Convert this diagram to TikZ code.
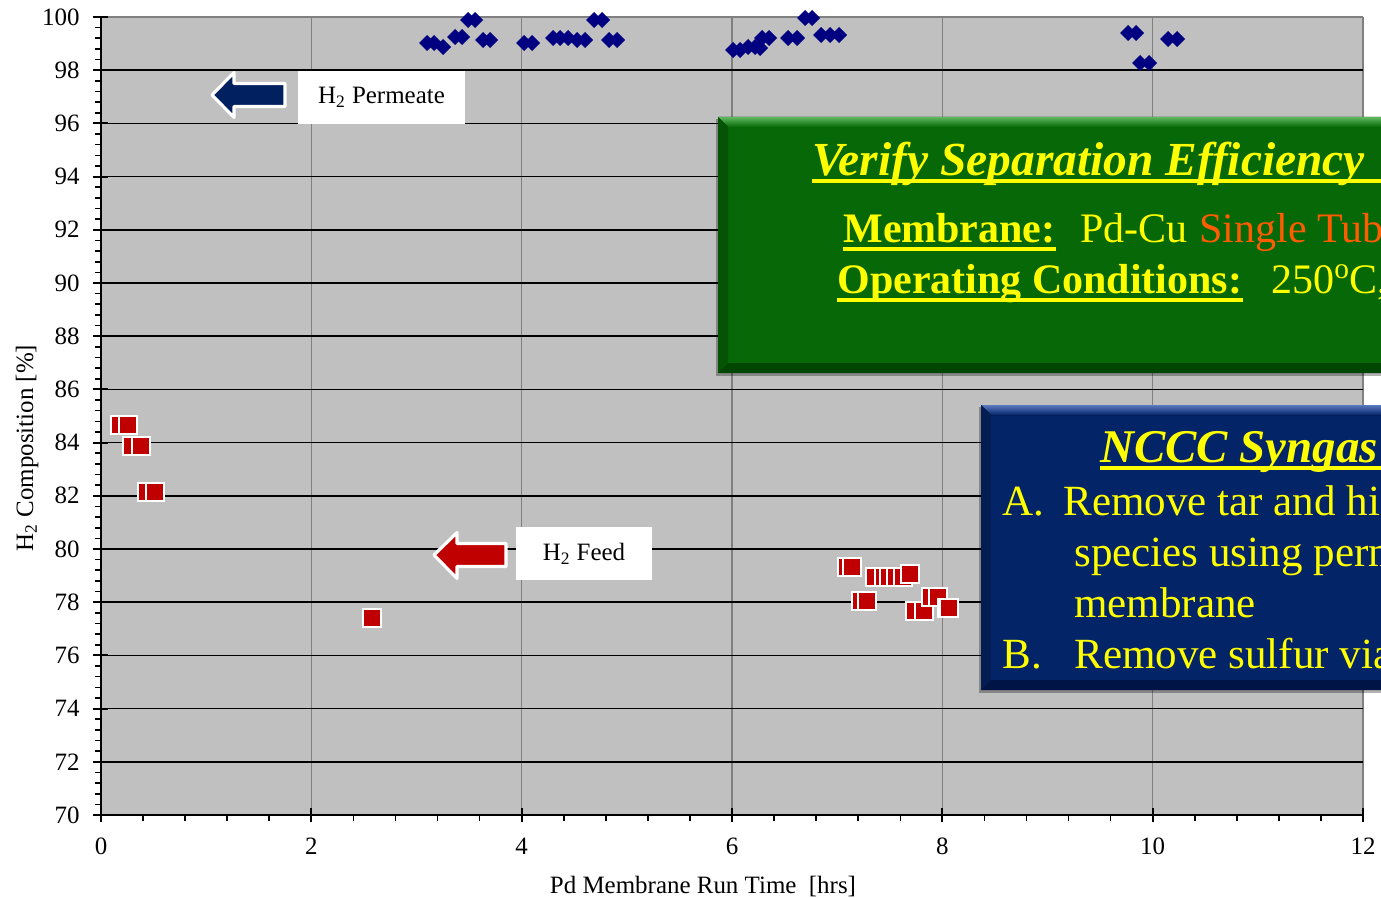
\documentclass[tikz,border=0pt]{standalone}
\usepackage{fontspec}
\setmainfont{Liberation Serif}
\usetikzlibrary{calc}

\definecolor{plotbg}{RGB}{192,192,192}
\definecolor{gridgray}{RGB}{128,128,128}
\definecolor{permmark}{RGB}{0,0,128}
\definecolor{feedmark}{RGB}{192,0,0}
\definecolor{permarrow}{RGB}{0,32,96}
\definecolor{feedarrow}{RGB}{192,0,0}
\definecolor{gpanel}{RGB}{6,104,6}
\definecolor{gpanellight}{RGB}{95,185,95}
\definecolor{gpaneldark}{RGB}{0,70,0}
\definecolor{bpanel}{RGB}{4,36,104}
\definecolor{bpanellight}{RGB}{90,120,190}
\definecolor{bpaneldark}{RGB}{0,20,70}
\definecolor{txtyellow}{RGB}{255,255,0}
\definecolor{tuborange}{RGB}{255,92,0}

\tikzset{
  hgrid/.style={draw=black, line width=0.85pt},
  vgrid/.style={draw=gridgray, line width=0.85pt},
  axisline/.style={draw=black, line width=1.2pt},
  minortick/.style={draw=black, line width=0.9pt},
  ticklab/.style={font=\fontsize{14.2}{16}\selectfont, inner sep=0pt},
  axtitle/.style={font=\fontsize{14.2}{16}\selectfont, inner sep=0pt},
  labelbox/.style={fill=white, inner sep=0pt, minimum height=1.06cm,
                   font=\fontsize{14.2}{16}\selectfont},
  blockarrow/.style={draw=white, line width=1.8pt, line join=round},
  gtitle/.style={anchor=base west, inner sep=0pt, text=txtyellow,
                 font=\fontsize{27}{30}\selectfont\bfseries\itshape},
  gbold/.style={anchor=base west, inner sep=0pt, text=txtyellow,
                font=\fontsize{23.9}{27}\selectfont\bfseries},
  gbody/.style={anchor=base west, inner sep=0pt, text=txtyellow,
                font=\fontsize{23.9}{27}\selectfont},
  btitle/.style={anchor=base west, inner sep=0pt, text=txtyellow,
                 font=\fontsize{26.7}{30}\selectfont\bfseries\itshape},
  bbody/.style={anchor=base west, inner sep=0pt, text=txtyellow,
                font=\fontsize{24.5}{28}\selectfont},
  yline/.style={draw=txtyellow, line width=2.2pt},
}

\begin{document}
\begin{tikzpicture}[x=0.02cm, y=-0.02cm]
\useasboundingbox (0,0) rectangle (1381,898);
\clip (0,0) rectangle (1381,898);
\fill[white] (0,0) rectangle (1381,898);

% plot area
\fill[plotbg] (101,17) rectangle (1363,815);

% vertical grid (every 2 h)
\foreach \h in {2,4,...,12}
  \draw[vgrid] ({101+\h*105.17},17) -- ({101+\h*105.17},815);
\draw[vgrid] (101,17) -- (1363,17);

% horizontal grid (every 2 %)
\foreach \v in {72,74,...,98}
  \draw[hgrid] (101,{815-(\v-70)*26.6}) -- (1363,{815-(\v-70)*26.6});

% minor ticks
\foreach \k in {0,...,75}
  \draw[minortick] (95,{815-\k*10.64}) -- (101,{815-\k*10.64});
\foreach \k in {0,...,30}
  \draw[minortick] ({101+\k*42.07},815) -- ({101+\k*42.07},821);

% major ticks
\foreach \v in {70,72,...,100}
  \draw[axisline] (93,{815-(\v-70)*26.6}) -- (108,{815-(\v-70)*26.6});
\foreach \h in {0,2,...,12}
  \draw[axisline] ({101+\h*105.17},808) -- ({101+\h*105.17},822);

% axes
\draw[axisline] (101,17) -- (101,821);
\draw[axisline] (101,815) -- (1363,815);

% tick labels
\foreach \v in {70,72,...,100}
  \node[ticklab, anchor=east] (ylab\v) at (80,{815-(\v-70)*26.6}) {\v};
\foreach \h in {0,2,...,12}
  \node[ticklab] (xlab\h) at ({101+\h*105.17},846) {\h};

% axis titles
\node[axtitle, anchor=base] (xtitle) at (703,893) {Pd Membrane Run Time~~[hrs]};
\node[axtitle, anchor=base, rotate=90] (ytitle) at (33,448) {H\textsubscript{2} Composition [\%]};

% H2 permeate composition
\foreach \px/\py in {
  427/43,434/43,443/47,455/37,462/37,468/20,475/20,483/40,490/40,
  524/43,532/43,
  553/38,560/38,568/38,577/40,585/40,594/20,602/20,609/40,617/40,
  733/50,740/50,748/47,755/47,760/48,762/38,769/38,788/38,797/38,
  805/18,812/18,821/35,830/35,839/35,
  1128/33,1136/33,1140/63,1149/63,1168/39,1177/39}
  \fill[permmark] (\px-8,\py) -- (\px,\py-8) -- (\px+8,\py) -- (\px,\py+8) -- cycle;

% H2 feed composition
\foreach \px/\py in {
  120/425,128/425,132/446,141/446,147/492,155/492,372/618,
  847/567,852/567,
  861/601,867/601,
  875/577,884/577,889/577,896/577,903/577,910/574,
  915/611,924/611,931/597,938/597,947/608,949/608}
  \filldraw[fill=feedmark, draw=white, line width=0.9pt]
    (\px-8.8,\py-8.8) rectangle (\px+8.8,\py+8.8);

% legend arrows and labels
\filldraw[blockarrow, fill=permarrow]
  (212,95) -- (234,72.5) -- (234,83.5) -- (285,83.5) -- (285,106.5)
  -- (234,106.5) -- (234,117.5) -- cycle;
\node[labelbox, minimum width=3.34cm] (permlab) at (381.5,97.5) {H\textsubscript{2} Permeate};

\filldraw[blockarrow, fill=feedarrow]
  (434,555) -- (457,532.5) -- (457,543.5) -- (506,543.5) -- (506,566.5)
  -- (457,566.5) -- (457,578.5) -- cycle;
\node[labelbox, minimum width=2.72cm] (feedlab) at (584,553.5) {H\textsubscript{2} Feed};

% green panel
\fill[black, opacity=0.3] (716,119) rectangle (1395,376);
\fill[gpanel] (718,117) rectangle (1395,373);
\fill[top color=gpanellight, bottom color=gpanel]
  (718,117) -- (1395,117) -- (1395,127) -- (728,127) -- cycle;
\fill[gpanel!80!black] (718,117) -- (728,127) -- (728,363) -- (718,373) -- cycle;
\fill[gpaneldark] (718,373) -- (728,363) -- (1395,363) -- (1395,373) -- cycle;

\node[gtitle] (vse) at (812,176) {Verify Separation Efficiency};
\coordinate (vseend) at (1395,181);
\draw[yline] ($(vse.base west)+(0,5)$) -- (vseend);

\node[gbold] (memb) at (843,243) {Membrane:};
\draw[yline] ($(memb.base west)+(0,6)$) -- ($(memb.base east)+(0,6)$);
\node[gbody] (pdcu) at (1080,243) {Pd-Cu};
\node[gbody, text=tuborange] (tube) at (1199,243) {Single Tub};

\node[gbold] (opc) at (837,294) {Operating Conditions:};
\draw[yline] ($(opc.base west)+(0,6)$) -- ($(opc.base east)+(0,6)$);
\node[gbody] (temp) at (1271,294) {250\textsuperscript{o}C,};

% blue panel
\fill[black, opacity=0.3] (979,407) rectangle (1395,693);
\fill[bpanel] (981,405) rectangle (1395,690);
\fill[top color=bpanellight, bottom color=bpanel]
  (981,405) -- (1395,405) -- (1395,415) -- (991,415) -- cycle;
\fill[bpanel!80!black] (981,405) -- (991,415) -- (991,680) -- (981,690) -- cycle;
\fill[bpaneldark] (981,690) -- (991,680) -- (1395,680) -- (1395,690) -- cycle;

\node[btitle] (nccc) at (1100,462) {NCCC Syngas};
\coordinate (ncccend) at (1395,468);
\draw[yline] ($(nccc.base west)+(0,6)$) -- (ncccend);

\node[bbody] (ia) at (1002,515) {A.};
\node[bbody] (ta) at (1063,515) {Remove tar and hig};
\node[bbody] (tb) at (1074,566) {species using perm};
\node[bbody] (tc) at (1074,617) {membrane};
\node[bbody] (ib) at (1002,668) {B.};
\node[bbody] (td) at (1074,668) {Remove sulfur via};
\end{tikzpicture}
\end{document}
